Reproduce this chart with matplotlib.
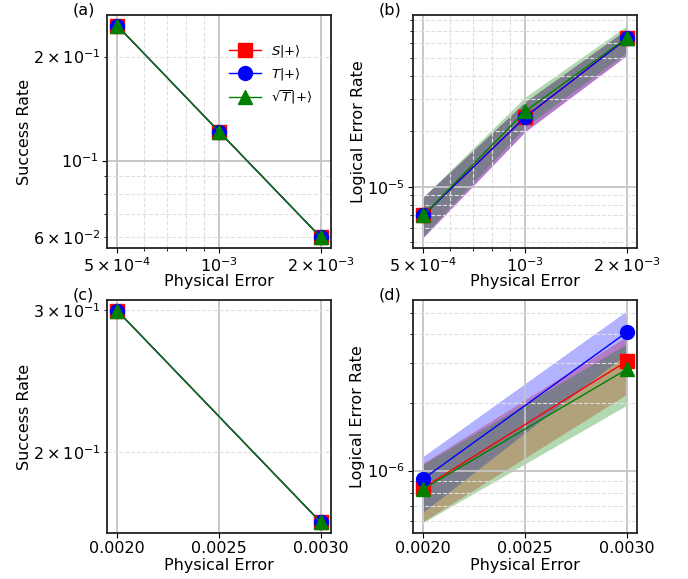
import numpy as np
import matplotlib
matplotlib.use("Agg")
import matplotlib.pyplot as plt
from matplotlib.ticker import FixedLocator, FixedFormatter, NullFormatter

plt.rcParams['font.family'] = ['DejaVu Sans']
plt.rcParams['font.size'] = 11.5

labels = [r'$S|{+}\rangle$', r'$T|{+}\rangle$', r'$\sqrt{T}|{+}\rangle$']
colors = ['red', 'blue', 'green']
markers = ['s', 'o', '^']

# Panel (a)/(b): three physical error rates
p_ab = [5e-4, 1e-3, 2e-3]
p_ab_ticklabels = [r'$\mathdefault{5\times10^{-4}}$', r'$\mathdefault{10^{-3}}$',
                   r'$\mathdefault{2\times10^{-3}}$']
succ_ab_S = [0.246, 0.1213, 0.0599]
succ_ab_T = [0.246, 0.1213, 0.0599]
succ_ab_sT = [0.246, 0.1213, 0.0599]

ler_ab_S = [7.0e-6, 2.39e-5, 6.40e-5]
ler_ab_S_lo = [5.3e-6, 1.99e-5, 5.18e-5]
ler_ab_S_hi = [8.8e-6, 2.89e-5, 7.20e-5]
ler_ab_T = [7.0e-6, 2.39e-5, 6.40e-5]
ler_ab_T_lo = [5.3e-6, 1.99e-5, 5.18e-5]
ler_ab_T_hi = [8.8e-6, 2.89e-5, 7.20e-5]
ler_ab_sT = [7.0e-6, 2.57e-5, 6.45e-5]
ler_ab_sT_lo = [5.4e-6, 2.11e-5, 5.38e-5]
ler_ab_sT_hi = [8.8e-6, 3.07e-5, 7.50e-5]

# Panel (c)/(d): two physical error rates
p_cd = [0.0020, 0.0030]
succ_cd_S = [0.2992, 0.1636]
succ_cd_T = [0.2992, 0.1636]
succ_cd_sT = [0.2992, 0.1636]

ler_cd_S = [8.4e-7, 3.05e-6]
ler_cd_S_lo = [5.96e-7, 2.18e-6]
ler_cd_S_hi = [1.08e-6, 3.93e-6]
ler_cd_T = [9.2e-7, 4.10e-6]
ler_cd_T_lo = [6.56e-7, 3.30e-6]
ler_cd_T_hi = [1.157e-6, 5.10e-6]
ler_cd_sT = [8.3e-7, 2.81e-6]
ler_cd_sT_lo = [5.9e-7, 1.95e-6]
ler_cd_sT_hi = [1.07e-6, 3.64e-6]

fig, axes = plt.subplots(2, 2, figsize=(6.88, 5.79), dpi=100)
fig.subplots_adjust(left=0.1555, right=0.9263, top=0.9741, bottom=0.0794,
                    wspace=0.366, hspace=0.223)


def style(ax, tag, ylabel, logx):
    ax.set_yscale('log')
    if logx:
        ax.set_xscale('log')
        ax.xaxis.set_major_locator(FixedLocator(p_ab))
        ax.xaxis.set_major_formatter(FixedFormatter(p_ab_ticklabels))
        ax.xaxis.set_minor_formatter(NullFormatter())
    ax.grid(True, which='major', ls='-', color='#c4c4c4', lw=1.3)
    ax.grid(True, which='minor', ls='--', color='#e0e0e0', lw=0.8)
    ax.tick_params(axis='both', which='both', pad=2.5)
    ax.set_xlabel('Physical Error', labelpad=-1 if logx else 1)
    ax.set_ylabel(ylabel, labelpad=1)
    for s in ax.spines.values():
        s.set_linewidth(1.3)
        s.set_color('#222222')
    ax.text(-0.152, 1.0, tag, transform=ax.transAxes, va='baseline', ha='left')


def success(ax, x, series):
    for y, c, m, lab in zip(series, colors, markers, labels):
        ax.plot(x, y, color=c, marker=m, ms=10, lw=1, label=lab)


def logical(ax, x, series):
    for (y, lo, hi), c, m, lab in zip(series, colors, markers, labels):
        ax.fill_between(x, lo, hi, color=c, alpha=0.3, lw=0)
        ax.plot(x, y, color=c, marker=m, ms=10, lw=1, label=lab)


ax = axes[0, 0]
success(ax, p_ab, [succ_ab_S, succ_ab_T, succ_ab_sT])
style(ax, '(a)', 'Success Rate', True)
ax.legend(frameon=False, loc='upper right', bbox_to_anchor=(0.97, 0.93),
          fontsize=9.5, handlelength=2.4)

ax = axes[0, 1]
logical(ax, p_ab, [(ler_ab_S, ler_ab_S_lo, ler_ab_S_hi),
                   (ler_ab_T, ler_ab_T_lo, ler_ab_T_hi),
                   (ler_ab_sT, ler_ab_sT_lo, ler_ab_sT_hi)])
style(ax, '(b)', 'Logical Error Rate', True)

ax = axes[1, 0]
success(ax, p_cd, [succ_cd_S, succ_cd_T, succ_cd_sT])
style(ax, '(c)', 'Success Rate', False)

ax = axes[1, 1]
logical(ax, p_cd, [(ler_cd_S, ler_cd_S_lo, ler_cd_S_hi),
                   (ler_cd_T, ler_cd_T_lo, ler_cd_T_hi),
                   (ler_cd_sT, ler_cd_sT_lo, ler_cd_sT_hi)])
style(ax, '(d)', 'Logical Error Rate', False)

fig.savefig('out.png', dpi=100)
